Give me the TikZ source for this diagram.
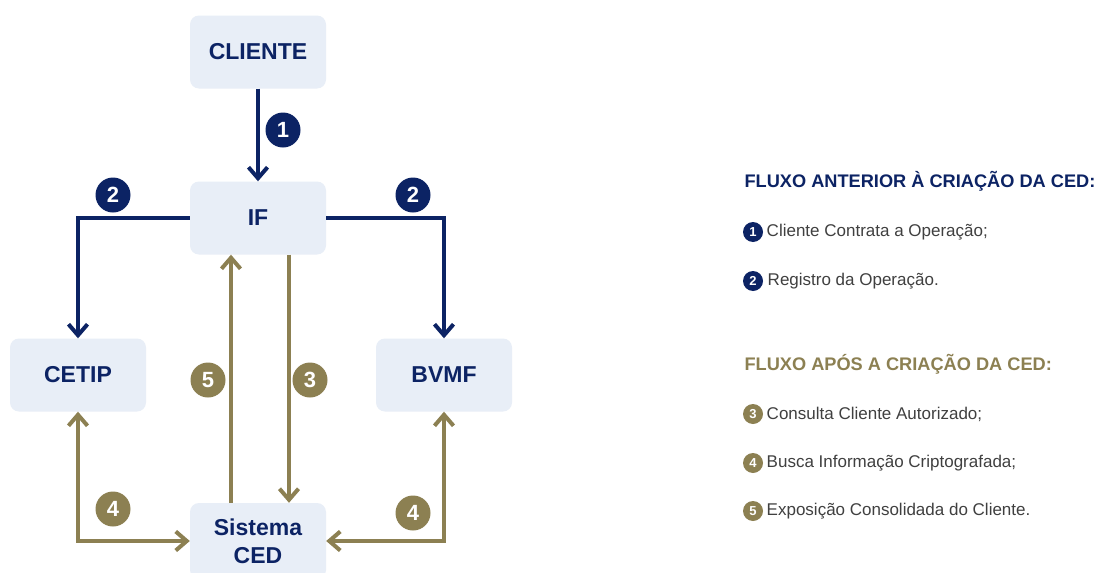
\documentclass[tikz,border=0pt]{standalone}
\usepackage{fontspec}
\setmainfont{Liberation Sans}
\usetikzlibrary{arrows.meta, positioning}
\definecolor{cednavy}{RGB}{12,35,100}
\definecolor{cedgold}{RGB}{140,128,82}
\definecolor{cedbox}{RGB}{232,238,247}
\definecolor{cedtext}{RGB}{64,64,64}

\begin{document}
\begin{tikzpicture}[
      x=1pt, y=-1pt,
      >={Straight Barb[length=11pt,width=19pt]},
      entity/.style={
        fill=cedbox,
        rounded corners=9pt,
        minimum width=136pt,
        minimum height=73pt,
        align=center,
        text=cednavy,
        font=\fontsize{23}{28}\selectfont\bfseries
      },
      badge/.style={
        circle,
        inner sep=0pt,
        minimum size=35pt,
        text=white,
        font=\fontsize{22}{22}\selectfont\bfseries
      },
      minibadge/.style={
        circle,
        inner sep=0pt,
        minimum size=20pt,
        text=white,
        font=\fontsize{13}{13}\selectfont\bfseries
      },
      before/.style={->, draw=cednavy, line width=4pt},
      after/.style={->, draw=cedgold, line width=4pt},
      heading/.style={anchor=west, font=\fontsize{18.2}{18}\selectfont\bfseries},
      item/.style={anchor=west, text=cedtext, font=\fontsize{17}{17}\selectfont}
    ]
    \useasboundingbox[fill=white] (0,0) rectangle (1096,573);

    % Entities
    \node[entity] (cliente) at (258,52) {CLIENTE};
    \node[entity] (if) at (258,218) {IF};
    \node[entity] (cetip) at (78,375) {CETIP};
    \node[entity] (bvmf) at (444,375) {BVMF};
    \node[entity, minimum height=76pt] (ced) at (258,541) {Sistema\\CED};

    % Flow before CED
    \draw[before] (cliente) -- (if);
    \draw[before] (if.west) -| (cetip.north);
    \draw[before] (if.east) -| (bvmf.north);

    % Flow after CED
    \draw[after] ([xshift=31pt]if.south) -- ([xshift=31pt]ced.north);
    \draw[after] ([xshift=-27pt]ced.north) -- ([xshift=-27pt]if.south);
    \draw[after, <->] (cetip.south) |- (ced.west);
    \draw[after, <->] (bvmf.south) |- (ced.east);

    % Step badges
    \node[badge, fill=cednavy] (b1) at (283,130) {1};
    \node[badge, fill=cednavy] (b2l) at (113,195) {2};
    \node[badge, fill=cednavy] (b2r) at (413,195) {2};
    \node[badge, fill=cedgold] (b5) at (208,380) {5};
    \node[badge, fill=cedgold] (b3) at (310,380) {3};
    \node[badge, fill=cedgold] (b4l) at (113,509) {4};
    \node[badge, fill=cedgold] (b4r) at (413,513) {4};

    % Legend
    \node[heading, text=cednavy] (hbefore) at (741,181) {FLUXO ANTERIOR À CRIAÇÃO DA CED:};
    \node[minibadge, fill=cednavy] (l1) at (753,232) {1};
    \node[item, right=0pt of l1] (t1) {Cliente Contrata a Operação;};
    \node[minibadge, fill=cednavy] (l2) at (753,281) {2};
    \node[item, right=1pt of l2] (t2) {Registro da Operação.};

    \node[heading, text=cedgold] (hafter) at (741,364) {FLUXO APÓS A CRIAÇÃO DA CED:};
    \node[minibadge, fill=cedgold] (l3) at (753,414) {3};
    \node[item, right=0pt of l3] (t3) {Consulta Cliente Autorizado;};
    \node[minibadge, fill=cedgold] (l4) at (753,463) {4};
    \node[item, right=0pt of l4] (t4) {Busca Informação Criptografada;};
    \node[minibadge, fill=cedgold] (l5) at (753,511) {5};
    \node[item, right=0pt of l5] (t5) {Exposição Consolidada do Cliente.};
  \end{tikzpicture}
\end{document}
